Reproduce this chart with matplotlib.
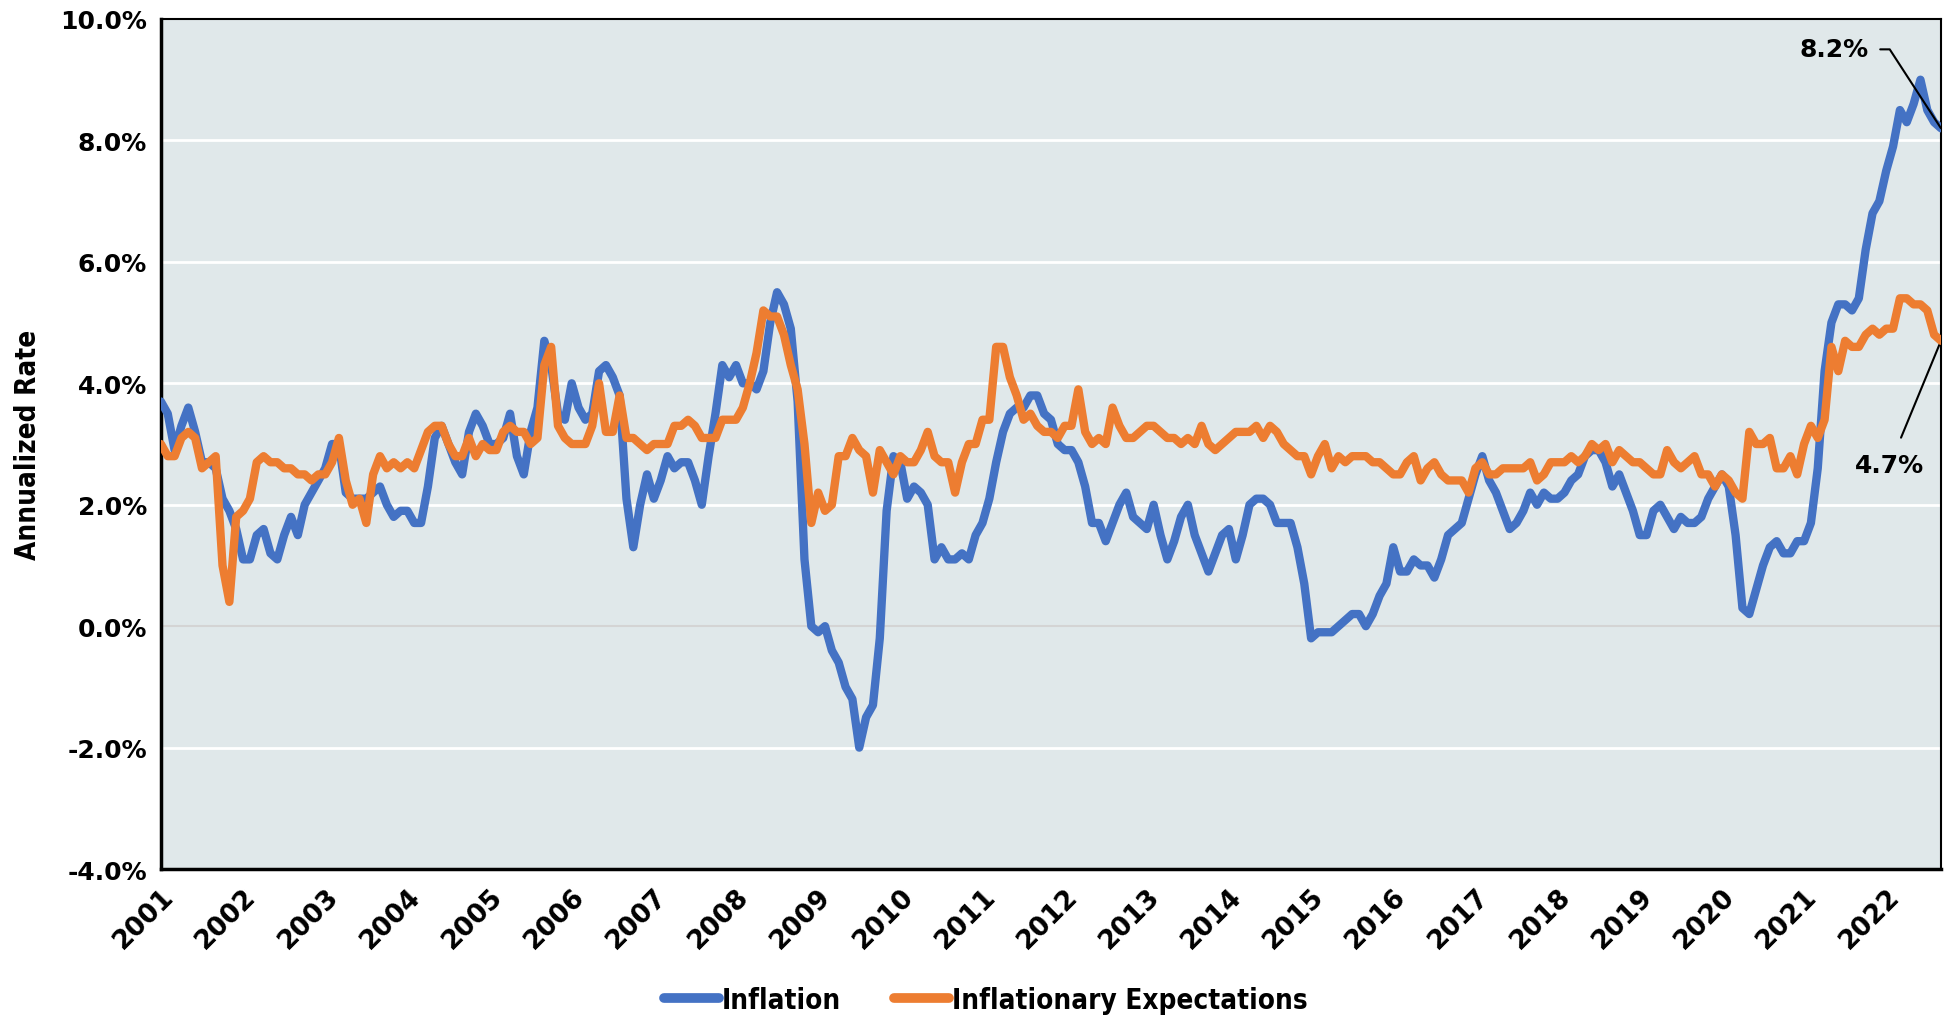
import matplotlib
matplotlib.use("Agg")
import matplotlib.pyplot as plt
import matplotlib.transforms as mtransforms
import numpy as np

# monthly, Jan 2001 .. Sep 2022
years = list(range(2001, 2023))

inflation = [
    3.7, 3.5, 2.9, 3.3, 3.6, 3.2, 2.7, 2.7, 2.6, 2.1, 1.9, 1.6,   # 2001
    1.1, 1.1, 1.5, 1.6, 1.2, 1.1, 1.5, 1.8, 1.5, 2.0, 2.2, 2.4,   # 2002
    2.6, 3.0, 3.0, 2.2, 2.1, 2.1, 2.1, 2.2, 2.3, 2.0, 1.8, 1.9,   # 2003
    1.9, 1.7, 1.7, 2.3, 3.1, 3.3, 3.0, 2.7, 2.5, 3.2, 3.5, 3.3,   # 2004
    3.0, 3.0, 3.1, 3.5, 2.8, 2.5, 3.2, 3.6, 4.7, 4.3, 3.5, 3.4,   # 2005
    4.0, 3.6, 3.4, 3.5, 4.2, 4.3, 4.1, 3.8, 2.1, 1.3, 2.0, 2.5,   # 2006
    2.1, 2.4, 2.8, 2.6, 2.7, 2.7, 2.4, 2.0, 2.8, 3.5, 4.3, 4.1,   # 2007
    4.3, 4.0, 4.0, 3.9, 4.2, 5.0, 5.5, 5.3, 4.9, 3.7, 1.1, 0.0,   # 2008
    -0.1, 0.0, -0.4, -0.6, -1.0, -1.2, -2.0, -1.5, -1.3, -0.2, 1.9, 2.8,  # 2009
    2.7, 2.1, 2.3, 2.2, 2.0, 1.1, 1.3, 1.1, 1.1, 1.2, 1.1, 1.5,   # 2010
    1.7, 2.1, 2.7, 3.2, 3.5, 3.6, 3.6, 3.8, 3.8, 3.5, 3.4, 3.0,   # 2011
    2.9, 2.9, 2.7, 2.3, 1.7, 1.7, 1.4, 1.7, 2.0, 2.2, 1.8, 1.7,   # 2012
    1.6, 2.0, 1.5, 1.1, 1.4, 1.8, 2.0, 1.5, 1.2, 0.9, 1.2, 1.5,   # 2013
    1.6, 1.1, 1.5, 2.0, 2.1, 2.1, 2.0, 1.7, 1.7, 1.7, 1.3, 0.7,   # 2014
    -0.2, -0.1, -0.1, -0.1, 0.0, 0.1, 0.2, 0.2, 0.0, 0.2, 0.5, 0.7,  # 2015
    1.3, 0.9, 0.9, 1.1, 1.0, 1.0, 0.8, 1.1, 1.5, 1.6, 1.7, 2.1,   # 2016
    2.5, 2.8, 2.4, 2.2, 1.9, 1.6, 1.7, 1.9, 2.2, 2.0, 2.2, 2.1,   # 2017
    2.1, 2.2, 2.4, 2.5, 2.8, 2.9, 2.9, 2.7, 2.3, 2.5, 2.2, 1.9,   # 2018
    1.5, 1.5, 1.9, 2.0, 1.8, 1.6, 1.8, 1.7, 1.7, 1.8, 2.1, 2.3,   # 2019
    2.5, 2.3, 1.5, 0.3, 0.2, 0.6, 1.0, 1.3, 1.4, 1.2, 1.2, 1.4,   # 2020
    1.4, 1.7, 2.6, 4.2, 5.0, 5.3, 5.3, 5.2, 5.4, 6.2, 6.8, 7.0,   # 2021
    7.5, 7.9, 8.5, 8.3, 8.6, 9.0, 8.5, 8.3, 8.2,                  # 2022
]

expectations = [
    3.0, 2.8, 2.8, 3.1, 3.2, 3.1, 2.6, 2.7, 2.8, 1.0, 0.4, 1.8,   # 2001
    1.9, 2.1, 2.7, 2.8, 2.7, 2.7, 2.6, 2.6, 2.5, 2.5, 2.4, 2.5,   # 2002
    2.5, 2.7, 3.1, 2.4, 2.0, 2.1, 1.7, 2.5, 2.8, 2.6, 2.7, 2.6,   # 2003
    2.7, 2.6, 2.9, 3.2, 3.3, 3.3, 3.0, 2.8, 2.8, 3.1, 2.8, 3.0,   # 2004
    2.9, 2.9, 3.2, 3.3, 3.2, 3.2, 3.0, 3.1, 4.3, 4.6, 3.3, 3.1,   # 2005
    3.0, 3.0, 3.0, 3.3, 4.0, 3.2, 3.2, 3.8, 3.1, 3.1, 3.0, 2.9,   # 2006
    3.0, 3.0, 3.0, 3.3, 3.3, 3.4, 3.3, 3.1, 3.1, 3.1, 3.4, 3.4,   # 2007
    3.4, 3.6, 4.0, 4.5, 5.2, 5.1, 5.1, 4.8, 4.3, 3.9, 3.0, 1.7,   # 2008
    2.2, 1.9, 2.0, 2.8, 2.8, 3.1, 2.9, 2.8, 2.2, 2.9, 2.7, 2.5,   # 2009
    2.8, 2.7, 2.7, 2.9, 3.2, 2.8, 2.7, 2.7, 2.2, 2.7, 3.0, 3.0,   # 2010
    3.4, 3.4, 4.6, 4.6, 4.1, 3.8, 3.4, 3.5, 3.3, 3.2, 3.2, 3.1,   # 2011
    3.3, 3.3, 3.9, 3.2, 3.0, 3.1, 3.0, 3.6, 3.3, 3.1, 3.1, 3.2,   # 2012
    3.3, 3.3, 3.2, 3.1, 3.1, 3.0, 3.1, 3.0, 3.3, 3.0, 2.9, 3.0,   # 2013
    3.1, 3.2, 3.2, 3.2, 3.3, 3.1, 3.3, 3.2, 3.0, 2.9, 2.8, 2.8,   # 2014
    2.5, 2.8, 3.0, 2.6, 2.8, 2.7, 2.8, 2.8, 2.8, 2.7, 2.7, 2.6,   # 2015
    2.5, 2.5, 2.7, 2.8, 2.4, 2.6, 2.7, 2.5, 2.4, 2.4, 2.4, 2.2,   # 2016
    2.6, 2.7, 2.5, 2.5, 2.6, 2.6, 2.6, 2.6, 2.7, 2.4, 2.5, 2.7,   # 2017
    2.7, 2.7, 2.8, 2.7, 2.8, 3.0, 2.9, 3.0, 2.7, 2.9, 2.8, 2.7,   # 2018
    2.7, 2.6, 2.5, 2.5, 2.9, 2.7, 2.6, 2.7, 2.8, 2.5, 2.5, 2.3,   # 2019
    2.5, 2.4, 2.2, 2.1, 3.2, 3.0, 3.0, 3.1, 2.6, 2.6, 2.8, 2.5,   # 2020
    3.0, 3.3, 3.1, 3.4, 4.6, 4.2, 4.7, 4.6, 4.6, 4.8, 4.9, 4.8,   # 2021
    4.9, 4.9, 5.4, 5.4, 5.3, 5.3, 5.2, 4.8, 4.7,                  # 2022
]

BLUE = "#4472C4"
ORANGE = "#ED7D31"
BG = "#E0E8EA"
NARROW = dict(family="DejaVu Sans", stretch="condensed", weight="bold")

x = np.arange(len(inflation))

fig = plt.figure(figsize=(19.48, 10.2), dpi=100)
ax = fig.add_axes([0.0826, 0.147, 0.9138, 0.8334])
ax.set_facecolor(BG)

ax.plot(x, inflation, color=BLUE, lw=6, solid_joinstyle="round",
        solid_capstyle="round", label="Inflation", zorder=3)
ax.plot(x, expectations, color=ORANGE, lw=6, solid_joinstyle="round",
        solid_capstyle="round", label="Inflationary Expectations", zorder=4)

ax.set_xlim(0, len(x) - 1)
ax.set_ylim(-4, 10)

yt = np.arange(-4, 10.1, 2)
ax.set_yticks(yt)
ax.set_yticklabels([f"{v:.1f}%" for v in yt], fontsize=18, fontweight="bold")
for v in yt:
    if v == 0:
        ax.axhline(v, color="#D4D4D4", lw=1.5, zorder=1)
    elif -4 < v < 10:
        ax.axhline(v, color="white", lw=2, zorder=1)

ax.set_xticks(np.arange(0, len(x), 12))
ax.set_xticklabels([str(y) for y in years], rotation=45, ha="right",
                   va="top", rotation_mode="anchor", fontsize=19, fontweight="bold")
offset = mtransforms.ScaledTranslation(0.08, 0.02, fig.dpi_scale_trans)
for lab in ax.get_xticklabels():
    lab.set_transform(lab.get_transform() + offset)

ax.tick_params(axis="both", length=0, pad=10)
for s in ax.spines.values():
    s.set_color("black")
    s.set_linewidth(1.5)
ax.spines["left"].set_linewidth(2.5)
ax.spines["bottom"].set_linewidth(2.5)

ax.set_ylabel("Annualized Rate", fontsize=20, labelpad=13, **NARROW)

last = len(x) - 1
ax.annotate(f"{inflation[-1]:.1f}%", xy=(last, inflation[-1]), xytext=(249.5, 9.5),
            ha="right", va="center", fontsize=18, fontweight="bold",
            arrowprops=dict(arrowstyle="-", color="black", lw=1.5,
                            connectionstyle="angle,angleA=0,angleB=123,rad=0",
                            shrinkA=6, shrinkB=0))
ax.annotate(f"{expectations[-1]:.1f}%", xy=(last, expectations[-1]), xytext=(252.5, 2.65),
            ha="center", va="center", fontsize=18, fontweight="bold",
            arrowprops=dict(arrowstyle="-", color="black", lw=1.5,
                            shrinkA=10, shrinkB=0))

leg = fig.legend(loc="center", bbox_to_anchor=(0.506, 0.019), ncol=2,
                 frameon=False, handlelength=2.0, handletextpad=0.1,
                 columnspacing=1.9,
                 prop=dict(size=20, **NARROW))
for h in leg.get_lines():
    h.set_linewidth(7)

fig.savefig("out.png", dpi=100)
